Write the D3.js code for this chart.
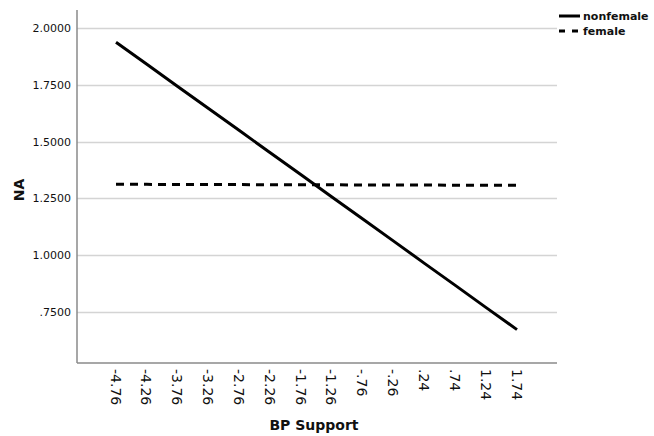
<!DOCTYPE html>
<html>
<head>
<meta charset="utf-8">
<script src="https://cdn.jsdelivr.net/npm/d3@7"></script>
<style>
  body { margin: 0; background: #fff; }
  text { font-family: "DejaVu Sans", sans-serif; fill: #111; }
</style>
</head>
<body>
<div id="chart"></div>
<script>
var width = 654;
var height = 436;
var grid_color = '#d4d4d4';
var axis_color = '#8a8a8a';

// x categories (BP Support)
var categories = ['-4.76', '-4.26', '-3.76', '-3.26', '-2.76', '-2.26', '-1.76',
                  '-1.26', '-.76', '-.26', '.24', '.74', '1.24', '1.74'];
// NA per group
var nonfemale = [1.938, 1.841, 1.743, 1.646, 1.549, 1.451, 1.354,
                 1.256, 1.159, 1.062, 0.964, 0.867, 0.769, 0.672];
var female = [1.312, 1.312, 1.311, 1.311, 1.311, 1.310, 1.310,
              1.310, 1.309, 1.309, 1.309, 1.308, 1.308, 1.308];
var y_ticks = [0.75, 1.0, 1.25, 1.5, 1.75, 2.0];
var series_names = ['nonfemale', 'female'];

var plot = {left: 77, right: 557, top: 10, bottom: 363};

var svg = d3.select('#chart').append('svg')
    .attr('width', width)
    .attr('height', height);

var x = d3.scalePoint()
    .domain(categories)
    .range([116, 517]);

var y = d3.scaleLinear()
    .domain([0.525, 2.08])
    .range([plot.bottom, plot.top]);

// gridlines
svg.append('g').selectAll('line')
    .data(y_ticks)
    .enter()
    .append('line')
    .attr('x1', plot.left)
    .attr('x2', plot.right)
    .attr('y1', function(d){ return Math.round(y(d)) + 0.5; })
    .attr('y2', function(d){ return Math.round(y(d)) + 0.5; })
    .style('stroke', grid_color)
    .style('stroke-width', 1.3);

// y axis
var y_axis = svg.append('g')
    .attr('transform', 'translate(' + plot.left + ',0)')
    .call(d3.axisLeft(y).tickValues(y_ticks).tickSize(0).tickPadding(6)
        .tickFormat(function(d){ return d3.format('.4f')(d).replace(/^0\./, '.'); }));
y_axis.select('.domain').remove();
y_axis.selectAll('text')
    .style('font-size', '11px')
    .style('font-family', '"DejaVu Sans", sans-serif')
    .attr('fill', '#111');

// x axis
var x_axis = svg.append('g')
    .attr('transform', 'translate(0,' + plot.bottom + ')')
    .call(d3.axisBottom(x).tickSize(0).tickPadding(0));
x_axis.select('.domain').remove();
x_axis.selectAll('text')
    .style('font-size', '14px')
    .style('font-family', '"DejaVu Sans", sans-serif')
    .attr('fill', '#000')
    .attr('text-anchor', 'start')
    .attr('dy', null)
    .attr('transform', 'translate(-6,6) rotate(90)')
    .attr('y', 0)
    .attr('x', 0);

// frame lines (left + bottom)
svg.append('line')
    .attr('x1', plot.left).attr('x2', plot.left)
    .attr('y1', plot.top).attr('y2', plot.bottom)
    .style('stroke', axis_color).style('stroke-width', 1.5);
svg.append('line')
    .attr('x1', plot.left).attr('x2', plot.right)
    .attr('y1', plot.bottom).attr('y2', plot.bottom)
    .style('stroke', axis_color).style('stroke-width', 1.5);

// series lines
var line = d3.line()
    .x(function(d, i){ return x(categories[i]); })
    .y(function(d){ return y(d); });

svg.append('path')
    .datum(nonfemale)
    .attr('d', line)
    .style('fill', 'none')
    .style('stroke', '#000')
    .style('stroke-width', 3);

svg.append('path')
    .datum(female)
    .attr('d', line)
    .style('fill', 'none')
    .style('stroke', '#000')
    .style('stroke-width', 3)
    .style('stroke-dasharray', '8,6');

// axis titles
svg.append('text')
    .text('NA')
    .attr('transform', 'translate(24,190) rotate(-90)')
    .attr('text-anchor', 'middle')
    .style('font-size', '14px')
    .style('font-weight', 'bold');

svg.append('text')
    .text('BP Support')
    .attr('x', 314)
    .attr('y', 430)
    .attr('text-anchor', 'middle')
    .style('font-size', '14px')
    .style('font-weight', 'bold');

// legend
var legend = svg.append('g').attr('transform', 'translate(559,16)');
legend.selectAll('line')
    .data(series_names)
    .enter()
    .append('line')
    .attr('x1', 0).attr('x2', 21)
    .attr('y1', function(d, i){ return i * 15; })
    .attr('y2', function(d, i){ return i * 15; })
    .style('stroke', '#000')
    .style('stroke-width', 3)
    .style('stroke-dasharray', function(d, i){ return i ? '6,7' : null; });
legend.selectAll('text')
    .data(series_names)
    .enter()
    .append('text')
    .text(function(d){ return d; })
    .attr('x', 24)
    .attr('y', function(d, i){ return i * 15 + 4; })
    .style('font-size', '11px')
    .style('font-weight', 'bold');
</script>
</body>
</html>
